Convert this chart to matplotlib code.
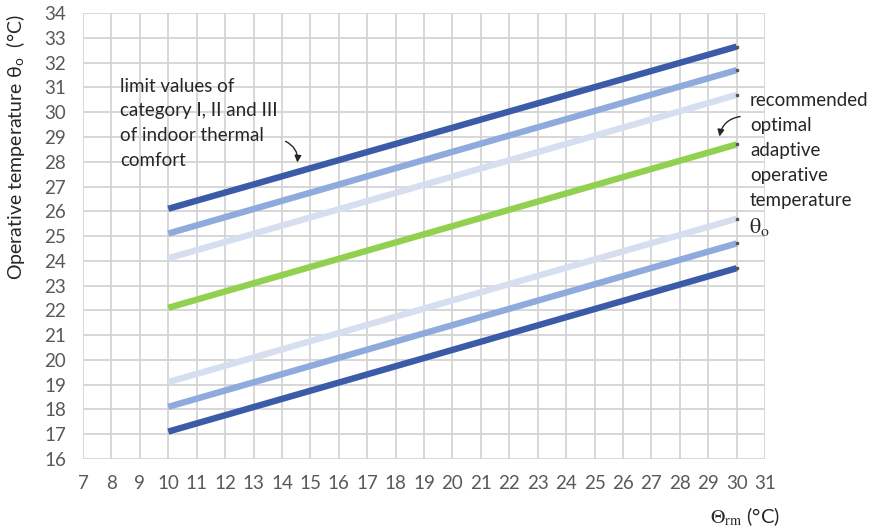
import matplotlib.pyplot as plt
import numpy as np

plt.rcParams['font.family'] = ['Lato', 'DejaVu Sans']
plt.rcParams['mathtext.fontset'] = 'stix'

# dane: temperatura zewnetrzna (srednia ruchoma) i granice komfortu
theta_rm = [10, 30]
optimal = [22.1, 28.7]
upper_I = [24.1, 30.7]
upper_II = [25.1, 31.7]
upper_III = [26.1, 32.65]
lower_I = [19.1, 25.7]
lower_II = [18.1, 24.7]
lower_III = [17.1, 23.7]

x_ticks = list(range(7, 32))
y_ticks = list(range(16, 35))

dark = '#3B5BA9'
mid = '#8FAADC'
light = '#D6DFF0'
green = '#92D050'

fig = plt.figure(figsize=(8.79, 5.28), dpi=100)
ax = fig.add_axes([0.0944, 0.131, 0.776, 0.844])

lw = 4.6
for y, c in [(upper_III, dark), (upper_II, mid), (upper_I, light), (optimal, green),
             (lower_I, light), (lower_II, mid), (lower_III, dark)]:
    ax.plot(theta_rm, y, color=c, lw=lw, solid_capstyle='butt', zorder=3)
    ax.plot(theta_rm[-1], y[-1], marker='s', ms=1.6, color='#555555', zorder=4)

ax.set_xlim(7, 31)
ax.set_ylim(16, 34)
ax.set_xticks(x_ticks)
ax.set_yticks(y_ticks)
ax.grid(True, color='#D4D4D4', lw=1.3)
ax.set_axisbelow(True)
for s in ax.spines.values():
    s.set_visible(False)
ax.tick_params(length=0, labelsize=13.5, labelcolor='#595959', pad=12)

ax.set_ylabel('Operative temperature θ$_{\\mathregular{o}}$  (°C)', fontsize=14, color='#262626')
ax.yaxis.set_label_coords(-0.082, 0.70)
ax.set_xlabel(r'$\mathrm{\Theta}_{\mathrm{rm}}$ (°C)', fontsize=14.5, color='#262626')
ax.xaxis.set_label_coords(0.97, -0.105)

ax.text(8.3, 31.4, 'limit values of\ncategory I, II and III\nof indoor thermal\ncomfort',
        fontsize=13.5, color='#262626', va='top', ha='left', linespacing=1.55)
ax.annotate('', xy=(14.53, 27.86), xytext=(14.04, 28.87),
            arrowprops=dict(arrowstyle='-|>', color='#262626', lw=1.0,
                            connectionstyle='arc3,rad=-0.4', mutation_scale=10))

ax.text(30.47, 30.8, 'recommended\noptimal\nadaptive\noperative\ntemperature',
        fontsize=13.5, color='#262626', va='top', ha='left', linespacing=1.57, clip_on=False)
ax.annotate('', xy=(29.38, 28.91), xytext=(30.22, 29.84), annotation_clip=False,
            arrowprops=dict(arrowstyle='-|>', color='#262626', lw=1.0,
                            connectionstyle='arc3,rad=0.4', mutation_scale=10))

ax.text(30.45, 25.35, r'$\mathrm{\theta}_{\mathrm{o}}$', fontsize=16, color='#262626',
        va='center', ha='left', clip_on=False)

fig.savefig('out.png', dpi=100)
